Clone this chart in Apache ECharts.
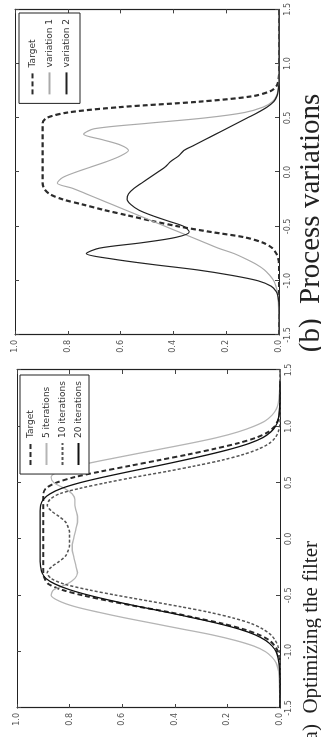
<!DOCTYPE html>
<html>
<head>
<meta charset="utf-8">
<script src="https://cdn.jsdelivr.net/npm/echarts@6/dist/echarts.min.js"></script>
<style>
html,body{margin:0;padding:0;background:#fff;overflow:hidden;width:321px;height:737px;}
#wrap{position:absolute;left:-208px;top:208px;width:737px;height:321px;transform:rotate(-90deg);transform-origin:50% 50%;}
#chart{width:737px;height:321px;}
</style>
</head>
<body>
<div id="wrap"><div id="chart"></div></div>
<script>
// shared x grid
const xs = [-1.5,-1.4,-1.3,-1.2,-1.15,-1.1,-1.05,-1.0,-0.95,-0.9,-0.85,-0.8,-0.75,-0.7,-0.65,-0.6,-0.55,-0.5,-0.45,-0.4,-0.35,-0.3,-0.25,-0.2,-0.15,-0.1,-0.05,0,0.05,0.1,0.15,0.2,0.25,0.3,0.35,0.4,0.45,0.5,0.55,0.6,0.65,0.7,0.75,0.8,0.85,0.9,0.95,1.0,1.05,1.1,1.15,1.2,1.3,1.4,1.5];

// panel (a) Optimizing the filter
const namesA = ['Target','5 iterations','10 iterations','20 iterations'];
const targetA = [0,0,0,0,0,0,0.002,0.008,0.02,0.04,0.08,0.14,0.22,0.32,0.42,0.54,0.65,0.75,0.83,0.88,0.895,0.9,
  0.9,0.9,0.9,0.9,0.9,0.9,0.9,0.9,0.9,0.9,0.9,0.9,0.9,0.9,
  0.89,0.85,0.78,0.68,0.57,0.46,0.35,0.25,0.16,0.09,0.045,0.02,0.008,0.002,0,0,0,0,0];
const iter5A = [0,0.001,0.002,0.004,0.008,0.015,0.03,0.055,0.1,0.17,0.26,0.37,0.48,0.59,0.69,0.78,0.84,0.87,0.86,0.81,0.78,0.77,0.775,0.78,0.785,0.79,0.79,
  0.785,
  0.78,0.775,0.77,0.77,0.775,0.78,0.78,0.79,0.82,0.86,0.87,0.84,0.77,0.67,0.56,0.45,0.34,0.24,0.16,0.1,0.055,0.03,0.015,0.007,0.002,0.001,0];
const iter10A = [0,0,0,0,0,0,0.001,0.003,0.008,0.018,0.035,0.065,0.11,0.18,0.27,0.38,0.5,0.62,0.73,0.82,0.87,0.885,0.87,0.84,0.815,0.805,0.8,
  0.8,
  0.8,0.805,0.815,0.84,0.87,0.885,0.875,0.84,0.76,0.66,0.55,0.43,0.32,0.22,0.14,0.08,0.04,0.018,0.007,0.002,0,0,0,0,0,0,0];
const iter20A = [0,0,0,0.001,0.002,0.004,0.008,0.015,0.03,0.055,0.095,0.155,0.235,0.33,0.43,0.535,0.635,0.725,0.8,0.855,0.89,0.905,0.91,
  0.912,0.912,0.912,0.912,0.912,0.912,0.912,0.912,0.912,0.912,
  0.91,0.9,0.875,0.83,0.76,0.67,0.57,0.465,0.365,0.27,0.185,0.115,0.065,0.035,0.017,0.008,0.004,0.002,0.001,0,0];

// panel (b) Process variations
const namesB = ['Target','variation 1','variation 2'];
const targetB = [0,0,0,0,0,0,0,0,0,0,0,0.003,0.01,0.025,0.06,0.13,0.26,0.38,0.48,0.57,0.66,0.74,0.82,0.87,0.89,
  0.895,0.895,0.895,0.895,0.895,0.895,0.895,0.895,0.895,0.895,0.895,0.895,
  0.88,0.8,0.6,0.3,0.1,0.03,0.008,0.002,0,0,0,0,0,0,0,0,0,0,0];
const var1B = [0,0,0.001,0.002,0.004,0.007,0.012,0.02,0.035,0.055,0.085,0.125,0.17,0.23,0.28,0.33,0.38,0.43,0.48,0.53,0.58,0.63,0.68,0.73,0.78,0.84,0.82,
  0.77,
  0.71,0.65,0.6,0.57,0.6,0.67,0.74,0.7,0.5,0.28,0.13,0.06,0.025,0.01,0.004,0.001,0,0,0,0,0,0,0,0,0,0,0];
const var2B = [0,0,0,0.001,0.003,0.01,0.03,0.08,0.18,0.31,0.48,0.63,0.73,0.68,0.52,0.39,0.34,0.36,0.42,0.48,0.53,0.56,0.575,0.57,0.55,0.52,0.49,
  0.46,
  0.43,0.41,0.38,0.36,0.32,0.28,0.24,0.2,0.16,0.12,0.08,0.045,0.02,0.008,0.003,0.001,0,0,0,0,0,0,0,0,0,0,0];

const xTicks = {min:-1.5, max:1.5, interval:0.5};
const yTicks = {min:0, max:1, interval:0.2};
const titleA = '(a)  Optimizing the filter';
const titleB = '(b)  Process variations';

const pair = v => xs.map((x,i)=>[x, v[i]]);
const chart = echarts.init(document.getElementById('chart'), null, {renderer:'canvas'});

const grids = [
  {left:29, top:17, width:338, height:263},
  {left:402, top:15, width:330, height:264}
];
function xAx(g, pos, lab){
  return {gridIndex:g, type:'value', position:pos, min:xTicks.min, max:xTicks.max, interval:xTicks.interval,
    axisLine:{show:true, onZero:false, lineStyle:{color:'#222', width:1.2}},
    axisTick:{show:true, inside:true, length:4, lineStyle:{color:'#444'}},
    axisLabel:{show:lab, fontSize:8, color:'#555', margin:5, fontFamily:'DejaVu Sans', formatter:v=>v.toFixed(1)},
    splitLine:{show:false}};
}
function yAx(g, pos, lab){
  return {gridIndex:g, type:'value', position:pos, min:yTicks.min, max:yTicks.max, interval:yTicks.interval,
    axisLine:{show:true, onZero:false, lineStyle:{color:'#222', width:1.2}},
    axisTick:{show:true, inside:true, length:4, lineStyle:{color:'#444'}},
    axisLabel:{show:lab, fontSize:8, color:'#555', margin:5, fontFamily:'DejaVu Sans', formatter:v=>v.toFixed(1)},
    splitLine:{show:false}};
}
function line(name, data, xi, yi, color, width, type, z){
  return {name:name, type:'line', xAxisIndex:xi, yAxisIndex:yi, data:pair(data), symbol:'none', smooth:0.3,
    lineStyle:{color:color, width:width, type:type}, itemStyle:{color:color}, z:z, silent:true, animation:false};
}
const legendBase = {orient:'vertical', borderColor:'#222', borderWidth:1, itemWidth:22, itemHeight:11, backgroundColor:'#fff',
  itemStyle:{opacity:0}};

chart.setOption({
  animation:false,
  backgroundColor:'#fff',
  grid:grids,
  xAxis:[xAx(0,'bottom',true), xAx(0,'top',false), xAx(1,'bottom',true), xAx(1,'top',false)],
  yAxis:[yAx(0,'left',true), yAx(0,'right',false), yAx(1,'left',true), yAx(1,'right',false)],
  legend:[
    Object.assign({}, legendBase, {data:namesA, right:375, top:20, padding:[6,6,6,8], itemGap:7,
      textStyle:{fontSize:9, fontFamily:'DejaVu Sans', color:'#333', width:60}}),
    Object.assign({}, legendBase, {data:namesB, right:13, top:19, padding:[9,6,9,8], itemGap:8,
      textStyle:{fontSize:9, fontFamily:'DejaVu Sans', color:'#333', width:66}})
  ],
  series:[
    line(namesA[0], targetA, 0, 0, '#2b2b2b', 2, [5,3], 2),
    line(namesA[1], iter5A, 0, 0, '#b5b5b5', 1.3, 'solid', 3),
    line(namesA[2], iter10A, 0, 0, '#555555', 1.5, [3,2], 4),
    line(namesA[3], iter20A, 0, 0, '#111111', 1.3, 'solid', 5),
    line(namesB[0], targetB, 2, 2, '#2b2b2b', 2.2, [5,3], 2),
    line(namesB[1], var1B, 2, 2, '#aaaaaa', 1.2, 'solid', 3),
    line(namesB[2], var2B, 2, 2, '#222222', 1.2, 'solid', 4)
  ],
  graphic:[
    {type:'text', x:514, y:311, style:{text:titleB, font:'29px "Liberation Serif"', fill:'#222', align:'center', verticalAlign:'middle', textAlign:'center', textVerticalAlign:'middle'}},
    {type:'text', x:196, y:311, style:{text:titleA, font:'21px "Liberation Serif"', fill:'#222', align:'right', verticalAlign:'middle', textAlign:'right', textVerticalAlign:'middle'}}
  ]
});
</script>
</body>
</html>
